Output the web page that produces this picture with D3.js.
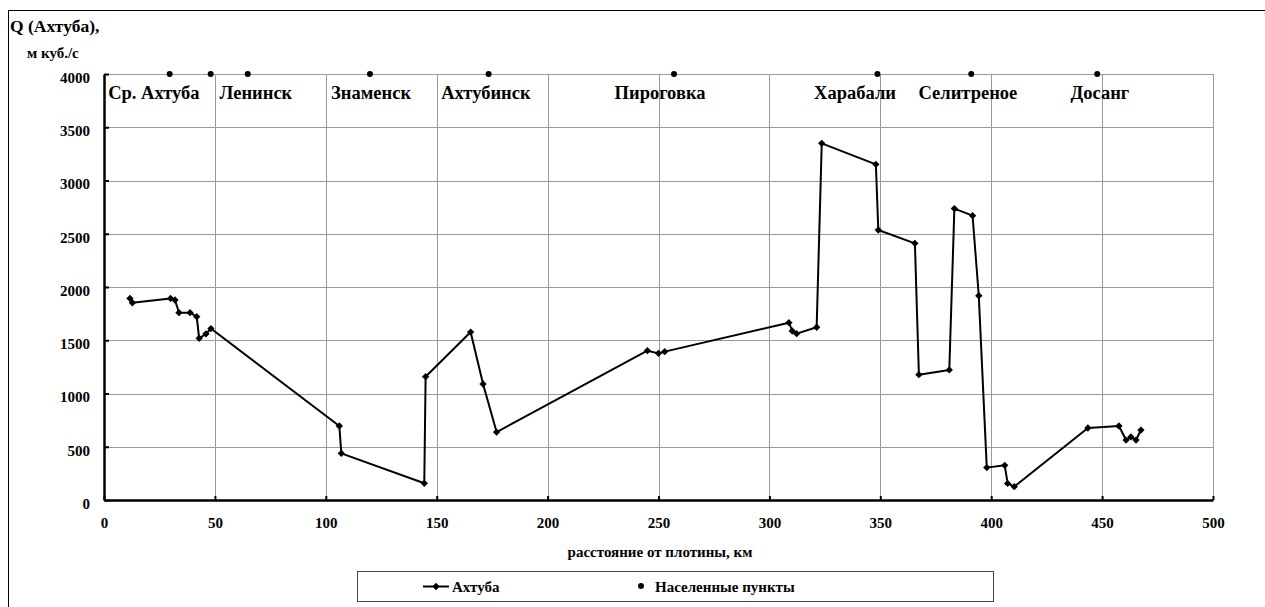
<!DOCTYPE html>
<html>
<head>
<meta charset="utf-8">
<script src="https://cdn.jsdelivr.net/npm/d3@7/dist/d3.min.js"></script>
<style>
  html, body { margin: 0; padding: 0; background: #fff; }
  svg { display: block; }
</style>
</head>
<body>
<svg id="chart" width="1265" height="607"></svg>
<script>
// Расход воды в Ахтубе по длине реки (км от плотины, м³/с)
const distKm = [11.7, 12.8, 30, 32, 33.8, 38.8, 41.8, 42.9, 46, 48.2,
  106.1, 107, 144.4, 145, 165.3, 170.9, 177,
  245, 250, 252.8, 308.8, 310.3, 312.3, 321.3,
  323.6, 348, 349.1, 365.6, 367.4, 381.1, 383.4, 391.6, 394.4,
  398, 406.1, 407.4, 410.4, 443.6, 457.6, 460.8, 463, 465.3, 467.5];
const flow = [1893, 1852, 1893, 1878, 1759, 1759, 1721, 1518, 1560, 1610,
  695, 438, 157, 1158, 1577, 1089, 638,
  1402, 1377, 1393, 1665, 1587, 1562, 1622,
  3349, 3152, 2535, 2410, 1177, 1221, 2736, 2670, 1918,
  304, 326, 156, 125, 676, 695, 563, 592, 563, 657];

// Населённые пункты (км от плотины), отмечены на отметке 4000
const townKm = [29.6, 48.1, 64.8, 119.9, 173.4, 257, 348.7, 391, 447.8];
const townLevel = 4000;
const townNames = ["Ср. Ахтуба", "Ленинск", "Знаменск", "Ахтубинск", "Пироговка",
  "Харабали", "Селитреное", "Досанг"];
const townLabelKm = [22.5, 68.5, 120.4, 172.2, 250.7, 338.6, 389.5, 449];

const xTicks = [0, 50, 100, 150, 200, 250, 300, 350, 400, 450, 500];
const yTicks = [0, 500, 1000, 1500, 2000, 2500, 3000, 3500, 4000];

const seriesName = "Ахтуба";
const townSeriesName = "Населенные пункты";
const xTitle = "расстояние от плотины, км";
const yTitle = ["Q (Ахтуба),", "м куб./с"];

const FONT = "'Liberation Serif', 'Times New Roman', serif";
const svg = d3.select("#chart");
const x = d3.scaleLinear().domain([0, 500]).range([104, 1213]);
const y = d3.scaleLinear().domain([0, 4000]).range([500, 74]);

function label(sel, size) {
  return sel.style("font-family", FONT).style("font-weight", "bold")
    .style("font-size", size + "px").attr("fill", "#000");
}

// рамка всей диаграммы
svg.append("rect")
  .attr("x", 8.5).attr("y", 10.5)
  .attr("width", 1265).attr("height", 620)
  .attr("fill", "none").attr("stroke", "#000").attr("stroke-width", 1);

// сетка
const grid = svg.append("g").attr("stroke", "#9a9a9a").attr("stroke-width", 1);
grid.selectAll("line.h").data(yTicks.filter(d => d > 0)).join("line")
  .attr("x1", x(0)).attr("x2", x(500))
  .attr("y1", d => Math.round(y(d)) + 0.5).attr("y2", d => Math.round(y(d)) + 0.5);
grid.selectAll("line.v").data(xTicks.filter(d => d > 0)).join("line")
  .attr("y1", y(0)).attr("y2", y(4000))
  .attr("x1", d => Math.round(x(d)) + 0.5).attr("x2", d => Math.round(x(d)) + 0.5);

// оси
const xAxis = d3.axisBottom(x).tickValues(xTicks).tickFormat(d3.format("d"))
  .tickSizeInner(-4).tickSizeOuter(0).tickPadding(14);
const yAxis = d3.axisLeft(y).tickValues(yTicks).tickFormat(d3.format("d"))
  .tickSizeInner(-5).tickSizeOuter(0).tickPadding(14);

const gx = svg.append("g").attr("transform", `translate(0,${y(0)})`).call(xAxis);
gx.select(".domain").attr("stroke", "#000").attr("stroke-width", 2.5);
gx.selectAll(".tick line").attr("stroke", "#000").attr("stroke-width", 2);
label(gx.selectAll(".tick text"), 15).attr("dy", "0.93em");

const gy = svg.append("g").attr("transform", `translate(${x(0)},0)`).call(yAxis);
gy.select(".domain").attr("stroke", "#000").attr("stroke-width", 2.5);
gy.selectAll(".tick line").attr("stroke", "#000").attr("stroke-width", 2);
label(gy.selectAll(".tick text"), 15).attr("dy", "0.55em");

// названия осей
label(svg.append("text"), 15).attr("x", 660).attr("y", 557).attr("text-anchor", "middle").text(xTitle);
label(svg.append("text"), 17.5).attr("x", 10).attr("y", 32).text(yTitle[0]);
label(svg.append("text"), 15).attr("x", 27).attr("y", 58).text(yTitle[1]);

// линия расхода
const pts = distKm.map((d, i) => [d, flow[i]]);
svg.append("path").datum(pts)
  .attr("fill", "none").attr("stroke", "#000").attr("stroke-width", 2)
  .attr("stroke-linejoin", "round")
  .attr("d", d3.line().x(d => x(d[0])).y(d => y(d[1])));

const diamond = d3.symbol().type(d3.symbolDiamond2).size(34);
svg.append("g").selectAll("path").data(pts).join("path")
  .attr("transform", d => `translate(${x(d[0])},${y(d[1])})`)
  .attr("d", diamond).attr("fill", "#000");

// населённые пункты
svg.append("g").selectAll("circle").data(townKm).join("circle")
  .attr("cx", d => x(d)).attr("cy", y(townLevel)).attr("r", 3).attr("fill", "#000");

label(svg.append("g").selectAll("text").data(townNames).join("text"), 18.5)
  .attr("x", (d, i) => x(townLabelKm[i])).attr("y", 99)
  .attr("text-anchor", "middle").text(d => d);

// легенда
const lg = svg.append("g");
lg.append("rect").attr("x", 357.5).attr("y", 571.5).attr("width", 636).attr("height", 30)
  .attr("fill", "#fff").attr("stroke", "#444").attr("stroke-width", 1);
lg.append("line").attr("x1", 423).attr("x2", 449).attr("y1", 586.5).attr("y2", 586.5)
  .attr("stroke", "#000").attr("stroke-width", 2);
lg.append("path").attr("transform", "translate(436,586.5)").attr("d", diamond).attr("fill", "#000");
label(lg.append("text"), 15).attr("x", 452).attr("y", 591.5).text(seriesName);
lg.append("circle").attr("cx", 641).attr("cy", 586).attr("r", 3).attr("fill", "#000");
label(lg.append("text"), 15).attr("x", 655).attr("y", 591.5).text(townSeriesName);
</script>
</body>
</html>
